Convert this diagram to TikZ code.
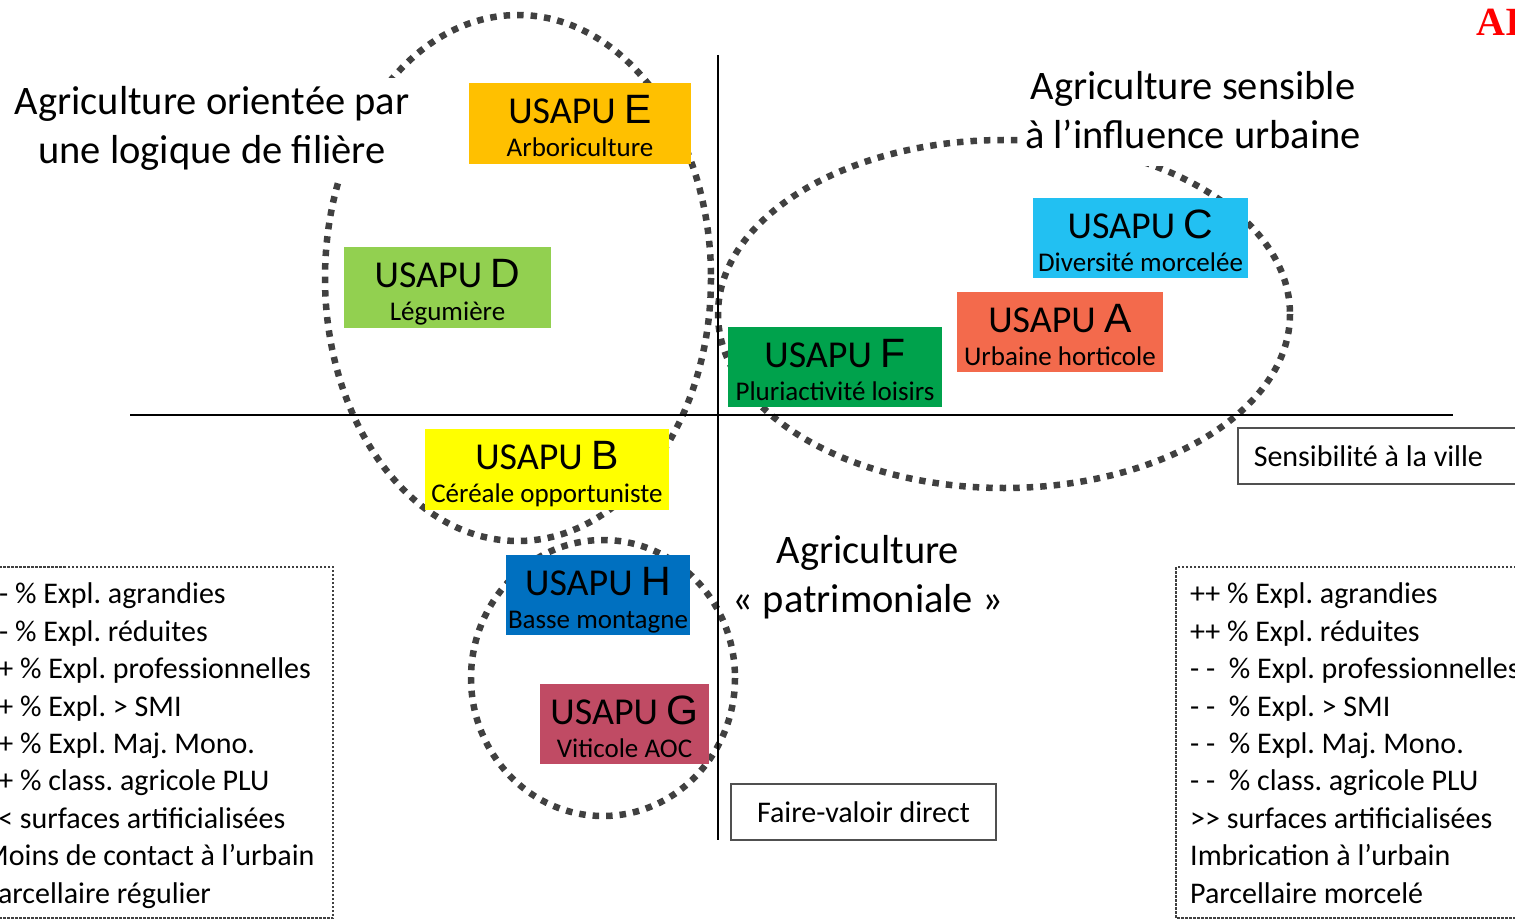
\documentclass[tikz,border=0pt]{standalone}
\usepackage{fontspec}
\setmainfont{Carlito}
\newfontfamily\letterfont{Liberation Sans}
\newfontfamily\logofont{Liberation Serif}
\usetikzlibrary{positioning}
\frenchspacing

\definecolor{colE}{HTML}{FFC000}
\definecolor{colD}{HTML}{92D050}
\definecolor{colC}{HTML}{22C0F2}
\definecolor{colA}{HTML}{F36A4C}
\definecolor{colF}{HTML}{00A24C}
\definecolor{colB}{HTML}{FFFF00}
\definecolor{colH}{HTML}{0070C0}
\definecolor{colG}{HTML}{C04B64}
\definecolor{dotgray}{HTML}{404040}
\definecolor{boxgray}{HTML}{505050}

% two lines of a USAPU box: big name, then its type
\newcommand{\usapu}[2]{\rule{0pt}{39pt}{\fontsize{38}{33}\selectfont USAPU {\letterfont\fontsize{41}{33}\selectfont #1}}\\#2\rule[-6pt]{0pt}{6pt}}

\begin{document}
\begin{tikzpicture}[x=1pt, y=-1pt,
    usapubox/.style={rectangle, inner sep=0pt, minimum height=81, align=center,
        font=\fontsize{27}{33}\selectfont},
    bigtitle/.style={fill=white, align=center, inner xsep=6pt,
        font=\fontsize{40.5}{49}\selectfont},
    ellipsedots/.style={draw=dotgray, line width=6.5pt, dash pattern=on 6.5pt off 7pt},
    listdots/.style={draw=dotgray, line width=2.5pt, dash pattern=on 2.5pt off 1.5pt},
    axisbox/.style={draw=boxgray, line width=1.5pt, inner sep=0pt, minimum height=56,
        font=\fontsize{30}{36}\selectfont},
    listtext/.style={inner sep=0pt, align=left, font=\fontsize{30}{37.4}\selectfont}]

    \useasboundingbox (0,0) rectangle (1515,920);

    % the three groups
    \draw[ellipsedots] (518,278) ellipse [x radius=193, y radius=263];
    \draw[ellipsedots] (1004,314) ellipse [x radius=286, y radius=174];
    \draw[ellipsedots] (603,678) ellipse [x radius=132, y radius=138];

    % axes
    \coordinate (xleft) at (130,415);
    \coordinate (xright) at (1453,415);
    \coordinate (ytop) at (718,55);
    \coordinate (ybottom) at (718,840);
    \draw[line width=2.5pt] (xleft) -- (xright);
    \draw[line width=2.5pt] (ytop) -- (ybottom);

    % group titles
    \node[bigtitle, inner ysep=8pt] (filiere) at (212,128)
        {Agriculture orientée par\\une logique de filière};
    \node[bigtitle, inner ysep=17pt] (urbaine) at (1193,110)
        {Agriculture sensible\\à l’influence urbaine};
    \node[bigtitle, inner ysep=4pt] (patrimoine) at (868,577)
        {Agriculture\\« patrimoniale »};

    % USAPU boxes
    \node[usapubox, fill=colE, minimum width=222] (usapuE) at (580,124) {\usapu{E}{Arboriculture}};
    \node[usapubox, fill=colD, minimum width=207] (usapuD) at (447.5,287) {\usapu{D}{Légumière}};
    \node[usapubox, fill=colC, minimum width=215, minimum height=80] (usapuC) at (1140.5,238) {\usapu{C}{Diversité morcelée}};
    \node[usapubox, fill=colA, minimum width=206, minimum height=80] (usapuA) at (1060,332) {\usapu{A}{Urbaine horticole}};
    \node[usapubox, fill=colF, minimum width=214, minimum height=80] (usapuF) at (835,367) {\usapu{F}{Pluriactivité loisirs}};
    \node[usapubox, fill=colB, minimum width=244] (usapuB) at (547,469) {\usapu{B}{Céréale opportuniste}};
    \node[usapubox, fill=colH, minimum width=184, minimum height=80] (usapuH) at (598,595) {\usapu{H}{Basse montagne}};
    \node[usapubox, fill=colG, minimum width=169, minimum height=80] (usapuG) at (624.5,724) {\usapu{G}{Viticole AOC}};

    % axis names
    \node[axisbox, anchor=west, inner xsep=16pt] (ville) at (1237,456) {Sensibilité à la ville\kern20pt};
    \node[axisbox, minimum width=265] (fvd) at (863.5,812) {Faire-valoir direct};

    % profiles (base = baseline of the last line)
    \draw[listdots] (-10,567) rectangle (333,918);
    \node[listtext, anchor=base west] (profilgauche) at (-17,903)
        {- - \% Expl. agrandies\\- - \% Expl. réduites\\++ \% Expl. professionnelles\\++ \% Expl. > SMI\\
         ++ \% Expl. Maj. Mono.\\++ \% class. agricole PLU\\<{}< surfaces artificialisées\\
         Moins de contact à l’urbain\\Parcellaire régulier};
    \draw[listdots] (1176,567) rectangle (1525,918);
    \node[listtext, anchor=base west] (profildroite) at (1190,903)
        {++ \% Expl. agrandies\\++ \% Expl. réduites\\- -\ \ \% Expl. professionnelles\\- -\ \ \% Expl. > SMI\\
         - -\ \ \% Expl. Maj. Mono.\\- -\ \ \% class. agricole PLU\\>{}> surfaces artificialisées\\
         Imbrication à l’urbain\\Parcellaire morcelé};

    \node[anchor=west, inner sep=0pt, text=red, font=\fontsize{40}{40}\selectfont\logofont\bfseries] (logo) at (1476,22) {AI};
\end{tikzpicture}
\end{document}
